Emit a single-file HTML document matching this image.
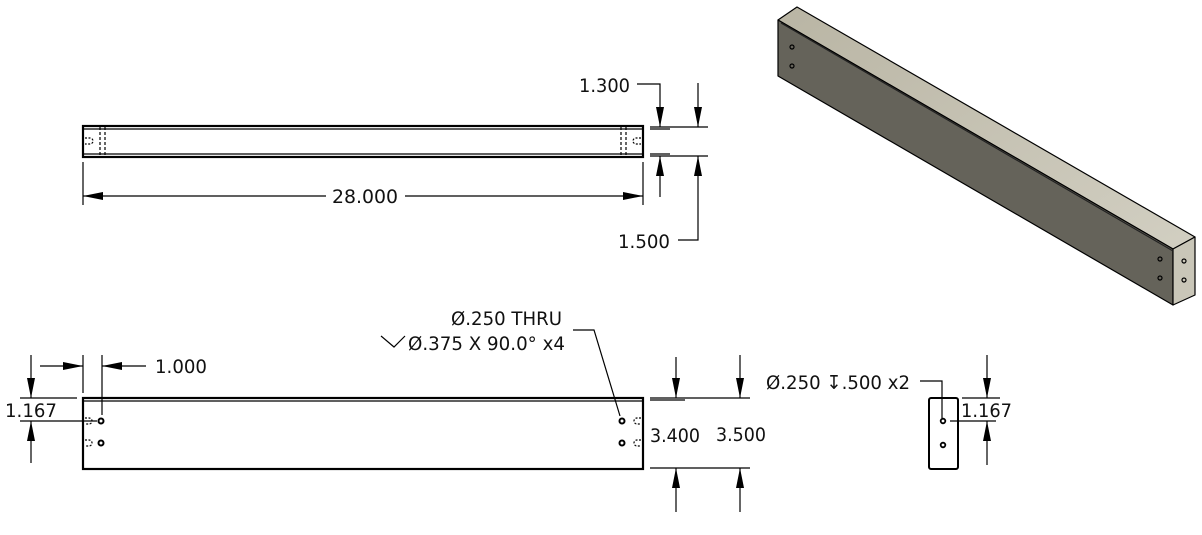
<!DOCTYPE html>
<html><head><meta charset="utf-8"><style>
html,body{margin:0;padding:0;background:#fff;width:1202px;height:535px;overflow:hidden}
svg{display:block}
text{font-family:"DejaVu Sans","Liberation Sans",sans-serif;font-size:19px;fill:#111}
</style></head><body>
<svg width="1202" height="535" viewBox="0 0 1202 535">
<defs>
<marker id="ar" viewBox="0 0 20 8" refX="20" refY="4" markerWidth="20" markerHeight="8" markerUnits="userSpaceOnUse" orient="auto"><path d="M0,0L20,4L0,8Z" fill="#000"/></marker>
<linearGradient id="tg" x1="0" y1="0" x2="1" y2="1"><stop offset="0" stop-color="#b9b5a4"/><stop offset="1" stop-color="#d2cfc2"/></linearGradient>
</defs>
<g stroke="#000" fill="none" stroke-width="1.2">
<g>
<rect x="83" y="126" width="560" height="31" stroke-width="2.2"/>
<line x1="83" y1="129" x2="643" y2="129"/>
<line x1="83" y1="154" x2="643" y2="154"/>
<line x1="100" y1="127" x2="100" y2="156" stroke-dasharray="3,2"/>
<line x1="105" y1="127" x2="105" y2="156" stroke-dasharray="3,2"/>
<line x1="621" y1="127" x2="621" y2="156" stroke-dasharray="3,2"/>
<line x1="626" y1="127" x2="626" y2="156" stroke-dasharray="3,2"/>
<path d="M85,138h5a3,3 0 0 1 0,6h-5" stroke-dasharray="2,1.5"/>
<path d="M641,138h-5a3,3 0 0 0 0,6h5" stroke-dasharray="2,1.5"/>
</g>
<g>
<line x1="83" y1="162" x2="83" y2="205"/>
<line x1="643" y1="162" x2="643" y2="205"/>
<line x1="326" y1="196" x2="83" y2="196" marker-end="url(#ar)"/>
<line x1="405" y1="196" x2="643" y2="196" marker-end="url(#ar)"/>
</g>
<g>
<line x1="650" y1="127" x2="708" y2="127"/>
<line x1="650" y1="129" x2="670" y2="129"/>
<line x1="650" y1="156" x2="708" y2="156"/>
<line x1="650" y1="154" x2="670" y2="154"/>
<polyline points="637,84 660,84 660,127" marker-end="url(#ar)"/>
<line x1="660" y1="197" x2="660" y2="156" marker-end="url(#ar)"/>
<line x1="698" y1="83" x2="698" y2="127" marker-end="url(#ar)"/>
<polyline points="678,240 698,240 698,156" marker-end="url(#ar)"/>
</g>
<g>
<rect x="83" y="398" width="560" height="71" stroke-width="2.2"/>
<line x1="83" y1="401" x2="643" y2="401"/>
<circle cx="101" cy="421" r="2.5" stroke-width="2"/>
<circle cx="101" cy="443" r="2.5" stroke-width="2"/>
<circle cx="622" cy="421" r="2.5" stroke-width="2"/>
<circle cx="622" cy="443" r="2.5" stroke-width="2"/>
<path d="M85,418h4a3,3 0 0 1 0,6h-4M85,440h4a3,3 0 0 1 0,6h-4" stroke-dasharray="2,1.5"/>
<path d="M641,418h-4a3,3 0 0 0 0,6h4M641,440h-4a3,3 0 0 0 0,6h4" stroke-dasharray="2,1.5"/>
</g>
<g>
<line x1="83" y1="355" x2="83" y2="393"/>
<line x1="102" y1="355" x2="102" y2="415"/>
<line x1="40" y1="366" x2="83" y2="366" marker-end="url(#ar)"/>
<line x1="146" y1="366" x2="102" y2="366" marker-end="url(#ar)"/>
</g>
<g>
<line x1="20" y1="398" x2="77" y2="398"/>
<line x1="20" y1="421" x2="97" y2="421"/>
<line x1="31" y1="355" x2="31" y2="398" marker-end="url(#ar)"/>
<line x1="31" y1="463" x2="31" y2="421" marker-end="url(#ar)"/>
</g>
<g>
<line x1="650" y1="398" x2="750" y2="398"/>
<line x1="650" y1="400" x2="685" y2="400"/>
<line x1="650" y1="468" x2="750" y2="468"/>
<line x1="676" y1="357" x2="676" y2="398" marker-end="url(#ar)"/>
<line x1="740" y1="355" x2="740" y2="398" marker-end="url(#ar)"/>
<line x1="676" y1="512" x2="676" y2="468" marker-end="url(#ar)"/>
<line x1="740" y1="512" x2="740" y2="468" marker-end="url(#ar)"/>
</g>
<g>
<polyline points="573,330 594,330 620,416"/>
<path d="M381,336l13,11l11,-11"/>
</g>
<g>
<rect x="929" y="398" width="29" height="71" rx="2" stroke-width="2"/>
<circle cx="943" cy="421" r="2.3" stroke-width="1.8"/>
<circle cx="943" cy="445" r="2.3" stroke-width="1.8"/>
<polyline points="920,381 942,381 942,418"/>
<line x1="962" y1="398" x2="1000" y2="398"/>
<line x1="950" y1="421" x2="996" y2="421"/>
<line x1="987" y1="355" x2="987" y2="398" marker-end="url(#ar)"/>
<line x1="987" y1="465" x2="987" y2="421" marker-end="url(#ar)"/>
</g>
</g>
<g stroke="#000" stroke-width="1.2" stroke-linejoin="round">
<polygon points="778,20 797,7 1195,237 1173,249" fill="url(#tg)"/>
<polygon points="778,20 1173,249 1173,305 778,76" fill="#65635a"/>
<polygon points="1173,249 1195,237 1195,295 1173,305" fill="#c9c6b8"/>
<line x1="781" y1="23" x2="1173" y2="251" stroke="#222"/>
<g fill="none" stroke="#000" stroke-width="1.2">
<circle cx="792" cy="47" r="2"/><circle cx="792" cy="66" r="2"/>
<circle cx="1160" cy="259" r="2"/><circle cx="1160" cy="278" r="2"/>
<circle cx="1184" cy="261" r="2"/><circle cx="1184" cy="280" r="2"/>
</g>
</g>
<text x="332" y="203" textLength="66" lengthAdjust="spacingAndGlyphs">28.000</text>
<text x="579" y="92" textLength="51" lengthAdjust="spacingAndGlyphs">1.300</text>
<text x="618" y="248" textLength="52" lengthAdjust="spacingAndGlyphs">1.500</text>
<text x="155" y="373" textLength="52" lengthAdjust="spacingAndGlyphs">1.000</text>
<text x="5" y="417" textLength="52" lengthAdjust="spacingAndGlyphs">1.167</text>
<text x="451" y="325" textLength="111" lengthAdjust="spacingAndGlyphs">Ø.250 THRU</text>
<text x="408" y="350" textLength="157" lengthAdjust="spacingAndGlyphs">Ø.375 X 90.0° x4</text>
<text x="650" y="442" textLength="50" lengthAdjust="spacingAndGlyphs">3.400</text>
<text x="716" y="441" textLength="50" lengthAdjust="spacingAndGlyphs">3.500</text>
<text x="766" y="389" textLength="144" lengthAdjust="spacingAndGlyphs">Ø.250 ↧.500 x2</text>
<text x="961" y="417" textLength="51" lengthAdjust="spacingAndGlyphs">1.167</text>
</svg>
</body></html>
